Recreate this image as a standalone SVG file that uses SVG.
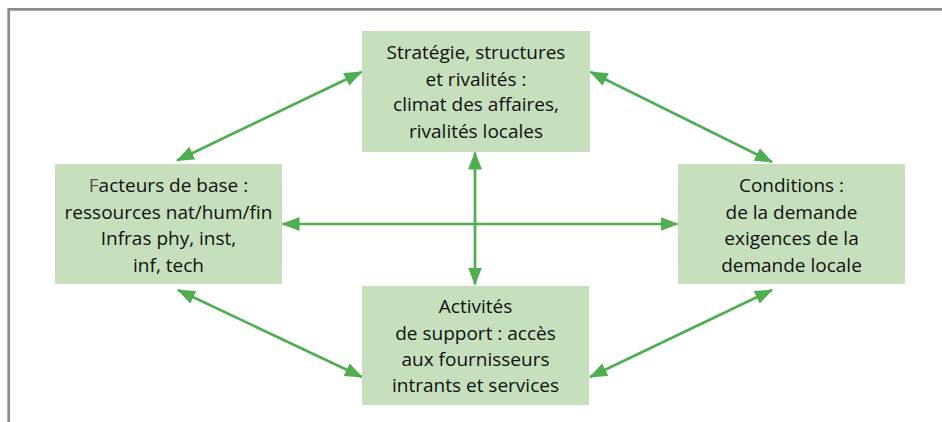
<svg xmlns="http://www.w3.org/2000/svg" width="942" height="422" viewBox="0 0 942 422">
<defs>
<style>
.box{fill:#c6e0bd;}
.t{font-family:"Open Sans","Noto Sans","Liberation Sans",sans-serif;font-size:19px;fill:#111111;text-anchor:middle;}
.c{stroke:#4fae50;stroke-width:2.7;fill:none;marker-start:url(#ah);marker-end:url(#ah);}
</style>
<marker id="ah" viewBox="0 0 18 14" refX="17" refY="7" markerWidth="18" markerHeight="14" markerUnits="userSpaceOnUse" orient="auto-start-reverse">
<path d="M0,0 L18,7 L0,14 Z" fill="#4fae50"/>
</marker>
</defs>
<rect width="942" height="422" fill="#ffffff"/>
<path d="M8.7,422 V9.3 H942" fill="none" stroke="#8c8c8c" stroke-width="2.7"/>
<g id="connectors">
<line class="c" x1="177" y1="160.5" x2="361.5" y2="72"/>
<line class="c" x1="590.5" y1="72" x2="772" y2="162"/>
<line class="c" x1="178" y1="290" x2="362" y2="377"/>
<line class="c" x1="590" y1="377" x2="772" y2="290"/>
<line class="c" x1="282.5" y1="224" x2="677.5" y2="224"/>
<line class="c" x1="475" y1="152.5" x2="475" y2="284.5"/>
</g>
<g id="strategie">
<rect class="box" x="362" y="31" width="228" height="121"/>
<text class="t" x="476" y="59">Stratégie, structures</text>
<text class="t" x="476" y="85.5">et rivalités :</text>
<text class="t" x="476" y="111">climat des affaires,</text>
<text class="t" x="476" y="138">rivalités locales</text>
</g>
<g id="facteurs">
<rect class="box" x="55" y="164" width="227" height="120"/>
<text class="t" x="168.5" y="192"><tspan fill="#555">F</tspan>acteurs de base :</text>
<text class="t" x="168.5" y="218.5">ressources nat/hum/fin</text>
<text class="t" x="168.5" y="245">Infras phy, inst,</text>
<text class="t" x="168.5" y="271.5">inf, tech</text>
</g>
<g id="conditions">
<rect class="box" x="678" y="164" width="227" height="120"/>
<text class="t" x="791.5" y="192">Conditions :</text>
<text class="t" x="791.5" y="218.5">de la demande</text>
<text class="t" x="791.5" y="245">exigences de la</text>
<text class="t" x="791.5" y="271.5">demande locale</text>
</g>
<g id="activites">
<rect class="box" x="362" y="286" width="227" height="119"/>
<text class="t" x="475.5" y="313">Activités</text>
<text class="t" x="475.5" y="339.5">de support : accès</text>
<text class="t" x="475.5" y="366">aux fournisseurs</text>
<text class="t" x="475.5" y="392">intrants et services</text>
</g>
</svg>
